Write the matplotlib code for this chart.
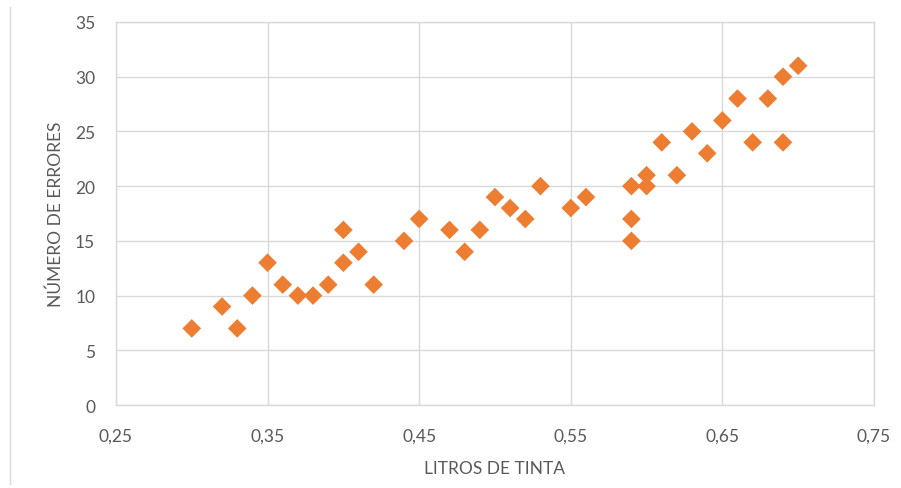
import matplotlib.pyplot as plt
from matplotlib.lines import Line2D
from matplotlib.ticker import FuncFormatter

# Datos
litros = [0.30, 0.32, 0.33, 0.34, 0.35, 0.36, 0.37, 0.38, 0.39, 0.40,
          0.40, 0.41, 0.42, 0.44, 0.45, 0.47, 0.48, 0.49, 0.50, 0.51,
          0.52, 0.53, 0.55, 0.56, 0.59, 0.59, 0.59, 0.60, 0.60, 0.61,
          0.62, 0.63, 0.64, 0.65, 0.66, 0.67, 0.68, 0.69, 0.69, 0.70]
errores = [7, 9, 7, 10, 13, 11, 10, 10, 11, 13,
           16, 14, 11, 15, 17, 16, 14, 16, 19, 18,
           17, 20, 18, 19, 20, 17, 15, 21, 20, 24,
           21, 25, 23, 26, 28, 24, 28, 30, 24, 31]

x_ticks = [0.25, 0.35, 0.45, 0.55, 0.65, 0.75]
y_ticks = [0, 5, 10, 15, 20, 25, 30, 35]

gris_texto = "#595959"
gris_grid = "#d9d9d9"
naranja = "#ed7d31"

plt.rcParams['font.family'] = ['Lato', 'DejaVu Sans']

fig = plt.figure(figsize=(9.01, 4.89), dpi=100)
ax = fig.add_axes([0.1287, 0.1697, 0.8413, 0.7833])

ax.scatter(litros, errores, marker='D', s=90, color=naranja,
           edgecolors='none', zorder=3)

ax.set_xlim(0.25, 0.75)
ax.set_ylim(0, 35)
ax.set_xticks(x_ticks)
ax.set_yticks(y_ticks)
ax.xaxis.set_major_formatter(FuncFormatter(lambda v, p: f"{v:.2f}".replace(".", ",")))

ax.grid(True, color=gris_grid, linewidth=1)
ax.set_axisbelow(True)
for s in ax.spines.values():
  s.set_color(gris_grid)
  s.set_linewidth(1)
ax.tick_params(length=0, labelsize=12.5, colors=gris_texto)
ax.tick_params(axis='x', pad=16)
ax.tick_params(axis='y', pad=15)

ax.set_xlabel("LITROS DE TINTA", fontsize=12.5, color=gris_texto, labelpad=12)
ax.set_ylabel("NÚMERO DE ERRORES", fontsize=12.5, color=gris_texto, labelpad=8)

# línea del borde izquierdo
fig.add_artist(Line2D([10/901, 10/901], [4/489, 481/489],
                      color=gris_grid, linewidth=1))

plt.savefig("out.png", dpi=100)
